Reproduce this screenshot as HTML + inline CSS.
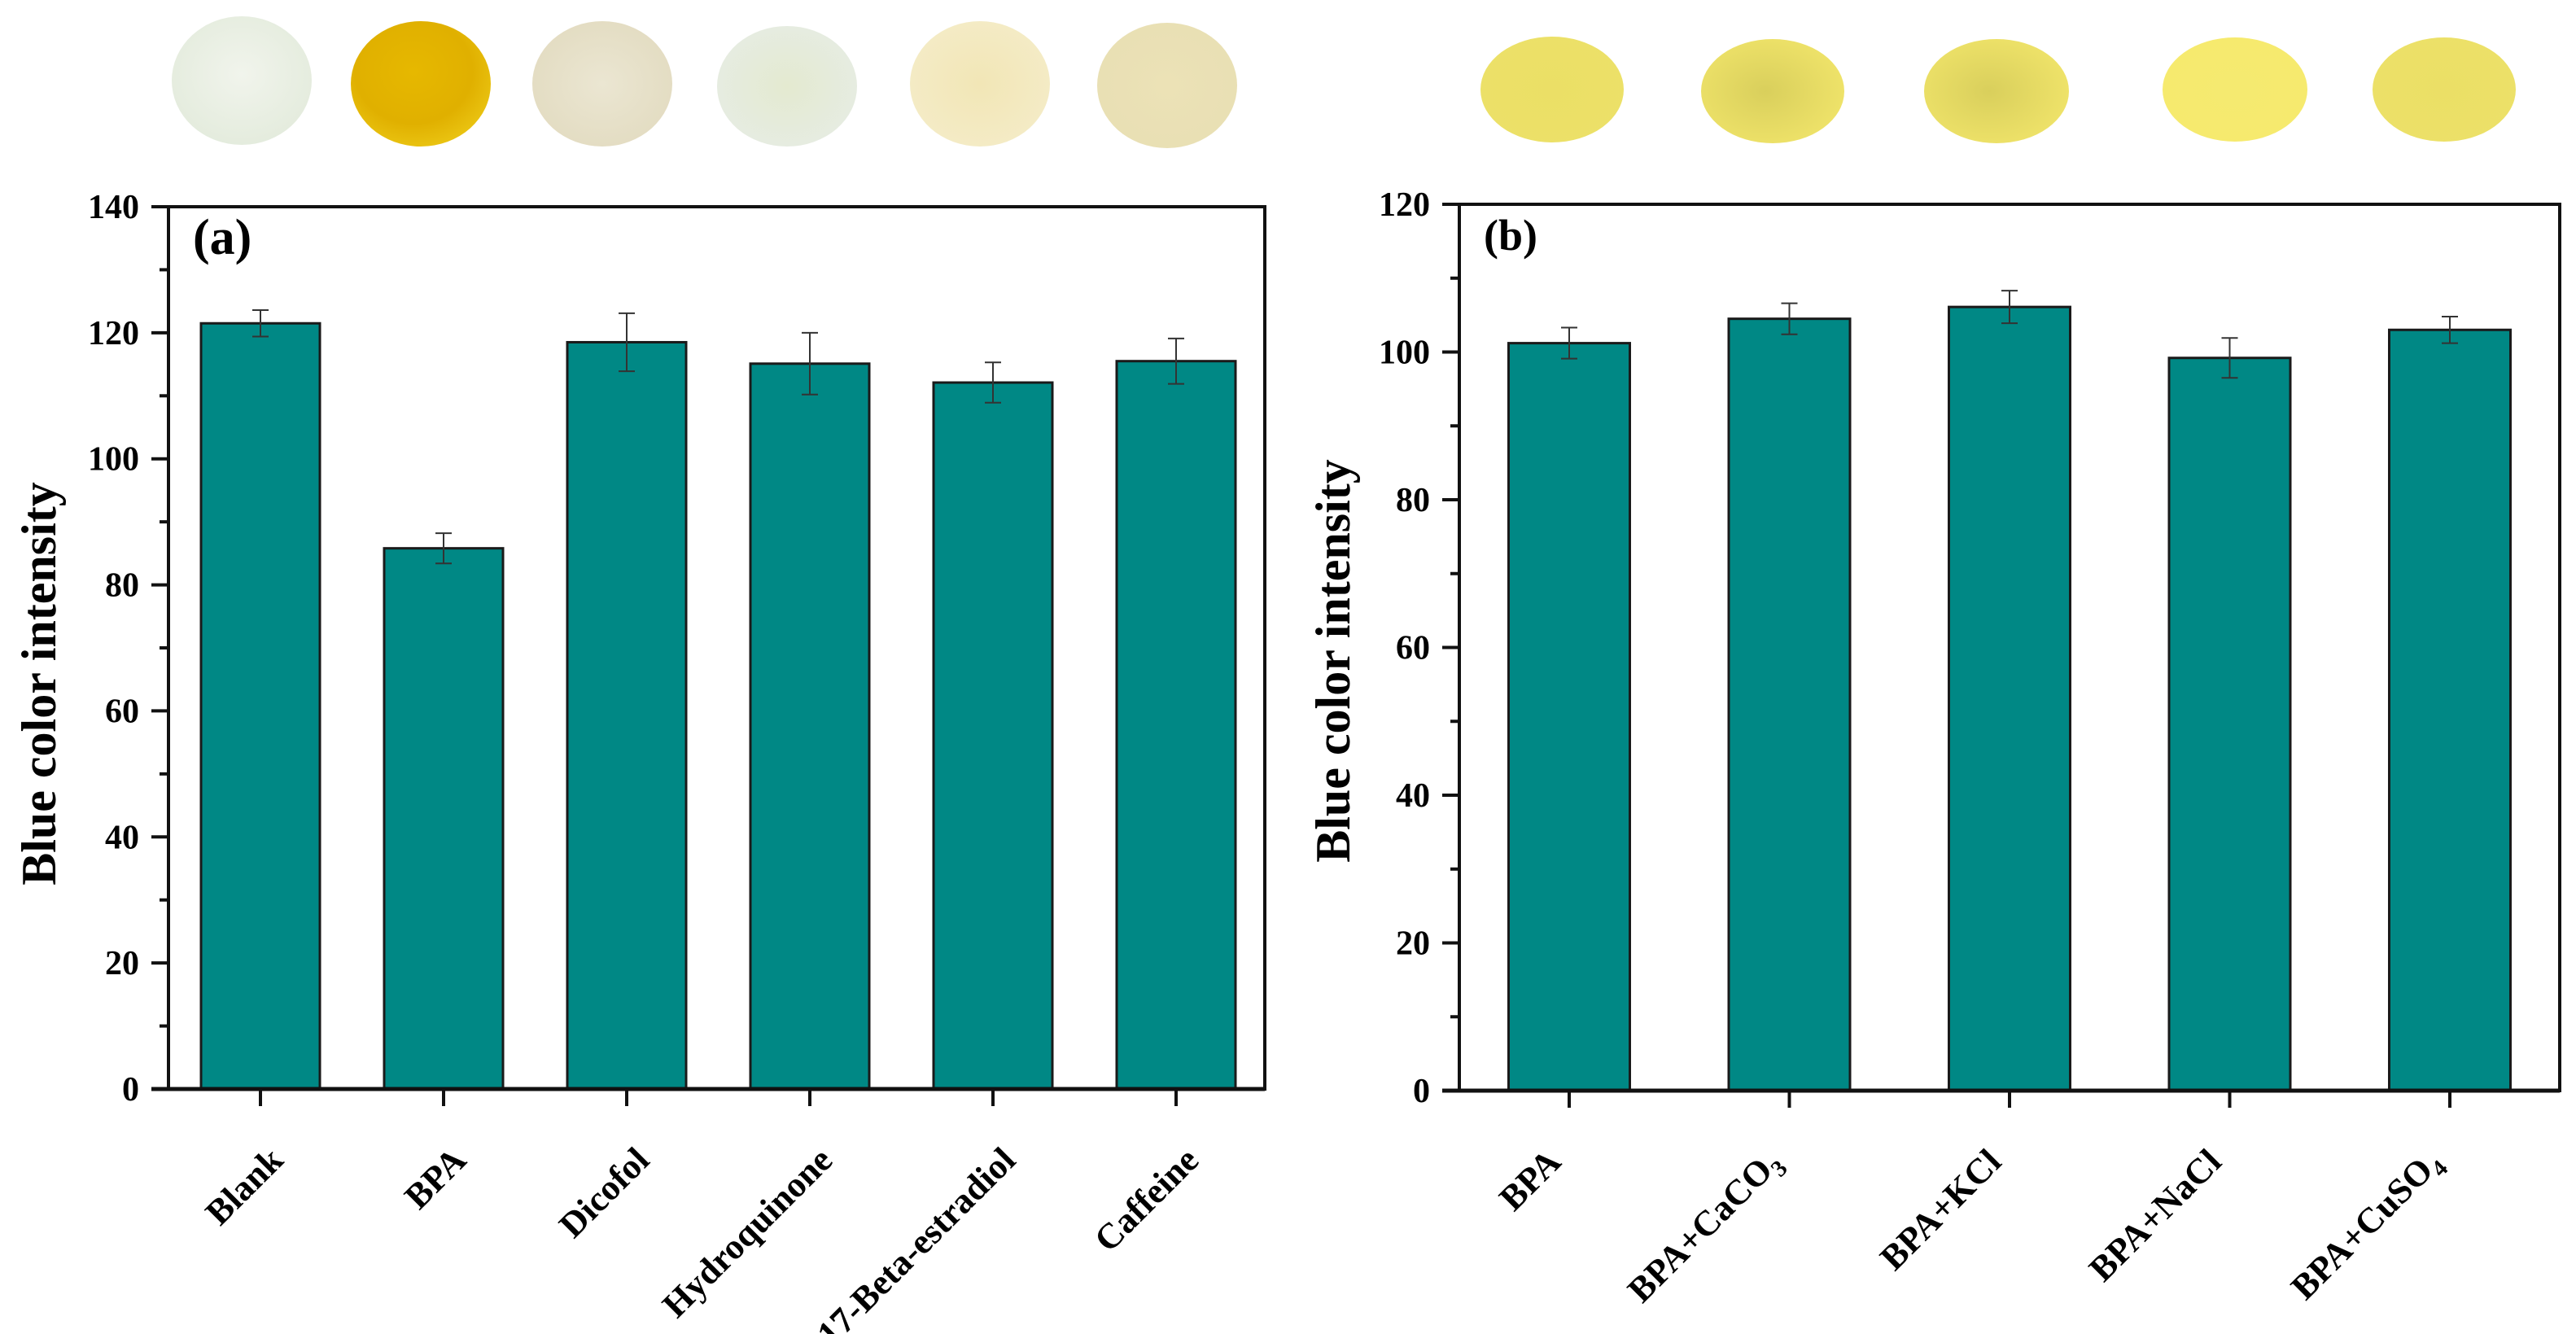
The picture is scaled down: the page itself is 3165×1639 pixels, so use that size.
<!DOCTYPE html>
<html><head><meta charset="utf-8"><style>
html,body{margin:0;padding:0;background:#fff;}
svg{display:block;}
text{font-family:"Liberation Serif",serif;font-weight:bold;fill:#000;}
</style></head><body>
<svg id="fig" width="3165" height="1639" viewBox="0 0 3165 1639" xmlns="http://www.w3.org/2000/svg">
<defs>
<radialGradient id="gBlank" cx="50%" cy="45%" r="60%"><stop offset="0" stop-color="#f1f4ec"/><stop offset="1" stop-color="#e3ebdc"/></radialGradient>
<radialGradient id="gBPA" cx="45%" cy="40%" r="60%"><stop offset="0" stop-color="#e6b800"/><stop offset="0.7" stop-color="#e0b000"/><stop offset="1" stop-color="#e9c210"/></radialGradient>
<radialGradient id="gDic" cx="50%" cy="50%" r="60%"><stop offset="0" stop-color="#ebe6d2"/><stop offset="1" stop-color="#e2dbc0"/></radialGradient>
<radialGradient id="gHyd" cx="50%" cy="50%" r="60%"><stop offset="0" stop-color="#e4ead0"/><stop offset="1" stop-color="#e6ece4"/></radialGradient>
<radialGradient id="gEst" cx="50%" cy="50%" r="60%"><stop offset="0" stop-color="#f2e6b6"/><stop offset="1" stop-color="#f4ecc8"/></radialGradient>
<radialGradient id="gCaf" cx="50%" cy="50%" r="60%"><stop offset="0" stop-color="#ece2b6"/><stop offset="1" stop-color="#e8dfb4"/></radialGradient>
<radialGradient id="gY1" cx="50%" cy="50%" r="60%"><stop offset="0" stop-color="#ebdf66"/><stop offset="1" stop-color="#ece168"/></radialGradient>
<radialGradient id="gY2" cx="45%" cy="50%" r="60%"><stop offset="0" stop-color="#d9cf5c"/><stop offset="1" stop-color="#f0e46a"/></radialGradient>
<radialGradient id="gY3" cx="50%" cy="50%" r="60%"><stop offset="0" stop-color="#f5ea70"/><stop offset="1" stop-color="#f6ea6e"/></radialGradient>
</defs>
<g id="photosA">
<ellipse cx="297" cy="99" rx="86" ry="79" fill="url(#gBlank)"/>
<ellipse cx="517" cy="103" rx="86" ry="77" fill="url(#gBPA)"/>
<ellipse cx="740" cy="103" rx="86" ry="77" fill="url(#gDic)"/>
<ellipse cx="967" cy="106" rx="86" ry="74" fill="url(#gHyd)"/>
<ellipse cx="1204" cy="103" rx="86" ry="77" fill="url(#gEst)"/>
<ellipse cx="1434" cy="105" rx="86" ry="77" fill="url(#gCaf)"/>
</g>
<g id="photosB">
<ellipse cx="1907" cy="110" rx="88" ry="65" fill="url(#gY1)"/>
<ellipse cx="2178" cy="112" rx="88" ry="64" fill="url(#gY2)"/>
<ellipse cx="2453" cy="112" rx="89" ry="64" fill="url(#gY2)"/>
<ellipse cx="2746" cy="110" rx="89" ry="64" fill="url(#gY3)"/>
<ellipse cx="3003" cy="110" rx="88" ry="64" fill="url(#gY1)"/>
</g>
<g id="chartA"></g>
<g id="chartB"></g>
</svg>
<script>
const catsA = ["Blank","BPA","Dicofol","Hydroquinone","17-Beta-estradiol","Caffeine"];
const valsA = [121.5, 85.8, 118.5, 115.1, 112.1, 115.5];
const errsA = [2.1, 2.4, 4.6, 4.9, 3.2, 3.6];
const ticksA = [0,20,40,60,80,100,120,140];

const catsB = ["BPA","BPA+CaCO|3","BPA+KCl","BPA+NaCl","BPA+CuSO|4"];
const valsB = [101.2, 104.5, 106.1, 99.2, 103.0];
const errsB = [2.1, 2.1, 2.2, 2.7, 1.8];
const ticksB = [0,20,40,60,80,100,120];

const NS = "http://www.w3.org/2000/svg";
function mk(parent, tag, attrs){
  const e = document.createElementNS(NS, tag);
  for (const k in attrs) e.setAttribute(k, attrs[k]);
  parent.appendChild(e);
  return e;
}

function drawChart(g, o){
  const {cats, vals, errs, ticks, left, right, top, bottom, first, step, bw, label, lblDx, lblDy, titleX, titleY, tag} = o;
  const ymax = ticks[ticks.length-1];
  const y = v => bottom - (v/ymax)*(bottom-top);
  const x = i => first + i*step;
  cats.forEach((c,i)=>{
    const r = mk(g,'rect',{x:x(i)-bw/2, y:y(vals[i]), width:bw, height:bottom-y(vals[i]), fill:'#008885', stroke:'#1a1a1a','stroke-width':3});
    
    
    const eg = mk(g,'path',{d:`M${x(i)} ${y(vals[i]+errs[i])}V${y(vals[i]-errs[i])}M${x(i)-10} ${y(vals[i]+errs[i])}h20M${x(i)-10} ${y(vals[i]-errs[i])}h20`, stroke:'#333', 'stroke-width':2, fill:'none'});
    
    
    const t = mk(g,'line',{x1:x(i), x2:x(i), y1:bottom, y2:bottom+21, stroke:'#111','stroke-width':4});
    
    
    const px = x(i)+lblDx, py = bottom+lblDy;
    const tx = mk(g,'text',{x:px, y:py, 'font-size':44, 'text-anchor':'end', transform:`rotate(-45 ${px} ${py})`});
    
    
    const parts = c.split('|');
    tx.appendChild(document.createTextNode(parts[0]));
    if (parts.length>1){
      const s = mk(tx,'tspan',{'font-size':29, dy:10});
      s.textContent = parts[1];
    }
  });
  ticks.forEach((v,j)=>{
    const l = mk(g,'line',{x1:left-21, x2:left, y1:y(v), y2:y(v), stroke:'#111','stroke-width':4});
    
    
    const t = mk(g,'text',{x:left-36, y:y(v)+14, 'font-size':42, 'text-anchor':'end'});
    
    
    t.textContent = v;
    if (j < ticks.length-1){
      const m = mk(g,'line',{x1:left-11, x2:left, y1:y(v+(ticks[1]-ticks[0])/2), y2:y(v+(ticks[1]-ticks[0])/2), stroke:'#111','stroke-width':4});
      
      
    }
  });
  const f = mk(g,'rect',{x:left, y:top, width:right-left, height:bottom-top, fill:'none', stroke:'#111', 'stroke-width':4});
  
  
  const xa = mk(g,'line',{x1:left-21, x2:right, y1:bottom, y2:bottom, stroke:'#111','stroke-width':5});
  
  
  const ta = mk(g,'line',{x1:left-21, x2:left, y1:top, y2:top, stroke:'#111','stroke-width':4});
  
  
  const pl = mk(g,'text',{x:left+30, y:top+ (tag==='a'?58:56), 'font-size': (tag==='a'?62:54)});
  
  
  pl.textContent = label;
  const yt = mk(g,'text',{x:titleX, y:titleY, 'font-size':60, 'text-anchor':'middle', transform:`rotate(-90 ${titleX} ${titleY})`});
  
  
  yt.textContent = 'Blue color intensity';
}

drawChart(document.getElementById('chartA'), {cats:catsA, vals:valsA, errs:errsA, ticks:ticksA,
  left:207, right:1554, top:254, bottom:1338, first:320, step:225, bw:146, label:'(a)',
  lblDx:30, lblDy:90, titleX:68, titleY:840, tag:'a'});
drawChart(document.getElementById('chartB'), {cats:catsB, vals:valsB, errs:errsB, ticks:ticksB,
  left:1793, right:3145, top:251, bottom:1340, first:1928, step:270.5, bw:149, label:'(b)',
  lblDx:-8, lblDy:90, titleX:1658, titleY:812, tag:'b'});
</script>
</body></html>
